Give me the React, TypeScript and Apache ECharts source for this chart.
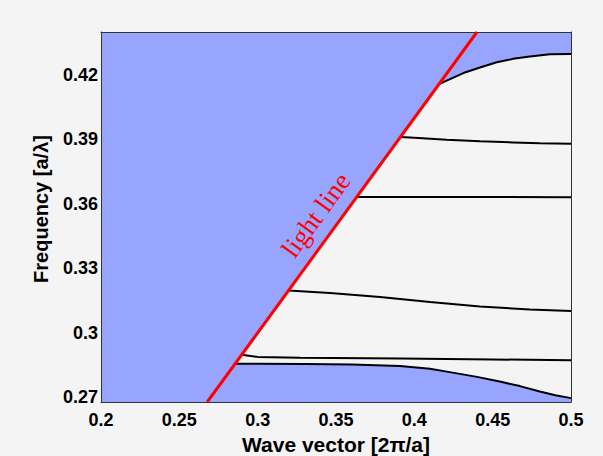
import React, { useEffect, useRef } from 'react';
import * as echarts from 'echarts';

// Axis ranges and ticks
const xMin = 0.2;
const xMax = 0.5;
const xInterval = 0.05;
const yMin = 0.2678;
const yMax = 0.44;
const yTickValues = [0.27, 0.3, 0.33, 0.36, 0.39, 0.42];
const rightTickValues = [0.3, 0.33, 0.36, 0.39, 0.42];

// Light line (omega = k)
const lightLine: number[][] = [
  [0.2678, 0.2678],
  [0.44, 0.44],
];

// Guided-mode bands [k, frequency], from top to bottom
const band1: number[][] = [
  [0.4157, 0.4157], [0.4228, 0.4181], [0.4313, 0.4209], [0.4419, 0.4235],
  [0.4526, 0.4259], [0.463, 0.4275], [0.4738, 0.4286], [0.4866, 0.4296], [0.5, 0.4298],
];
const band2: number[][] = [
  [0.3911, 0.3911], [0.4, 0.3908], [0.4206, 0.3899], [0.442, 0.3891],
  [0.4632, 0.3886], [0.48, 0.3882], [0.5, 0.388],
];
const band3: number[][] = [
  [0.3632, 0.3632], [0.4, 0.3632], [0.45, 0.3632], [0.5, 0.3631],
];
const band4: number[][] = [
  [0.3197, 0.3197], [0.3461, 0.3185], [0.3781, 0.3167], [0.41, 0.3143],
  [0.4419, 0.3123], [0.4738, 0.3108], [0.5, 0.3102],
];
const band5: number[][] = [
  [0.2898, 0.2898], [0.3, 0.2888], [0.327, 0.2884], [0.3908, 0.288],
  [0.45, 0.2876], [0.5, 0.2872],
];
const band6: number[][] = [
  [0.2856, 0.2856], [0.3, 0.2856], [0.33, 0.2855], [0.36, 0.2852], [0.3908, 0.2845],
  [0.41, 0.2833], [0.4226, 0.2817], [0.44, 0.2795], [0.4545, 0.2773], [0.4674, 0.2752],
  [0.4801, 0.2727], [0.49, 0.2709], [0.5, 0.2696],
];

const BLUE = '#97a5fe';
const GREY = '#f4f4f4';
const SANS = 'Liberation Sans, Arial, sans-serif';
const SERIF = 'Liberation Serif, Times New Roman, serif';

export default function App() {
  const ref = useRef<HTMLDivElement>(null);

  useEffect(() => {
    if (!ref.current) return;
    const chart = echarts.init(ref.current, null, { renderer: 'svg' });

    const bandSeries = [band1, band2, band3, band4, band5, band6].map((b) => ({
      type: 'line',
      data: b,
      symbol: 'none',
      silent: true,
      lineStyle: { color: '#000', width: 2 },
      z: 3,
    }));

    const axisLine = { show: true, lineStyle: { color: '#333', width: 1 } };

    chart.setOption({
      animation: false,
      backgroundColor: GREY,
      grid: {
        left: 101,
        right: 32,
        top: 32,
        bottom: 54,
        containLabel: false,
        outerBoundsMode: 'none',
        show: true,
        backgroundColor: BLUE,
        borderWidth: 0,
      },
      xAxis: [
        {
          type: 'value',
          min: xMin,
          max: xMax,
          interval: xInterval,
          position: 'bottom',
          axisLine,
          axisTick: { show: false },
          splitLine: { show: false },
          axisLabel: {
            color: '#000',
            fontSize: 18,
            fontWeight: 'bold',
            fontFamily: SANS,
            margin: 9,
          },
          name: 'Wave vector [2π/a]',
          nameLocation: 'middle',
          nameGap: 23,
          nameTextStyle: {
            color: '#000',
            fontSize: 21,
            fontWeight: 'bold',
            fontFamily: SANS,
          },
        },
        {
          type: 'value',
          min: xMin,
          max: xMax,
          interval: xInterval,
          position: 'top',
          axisLine,
          axisTick: { show: false },
          axisLabel: { show: false },
          splitLine: { show: false },
        },
      ],
      yAxis: [
        {
          type: 'value',
          min: yMin,
          max: yMax,
          position: 'left',
          axisLine,
          axisTick: { show: false },
          splitLine: { show: false },
          axisLabel: {
            customValues: yTickValues,
            color: '#000',
            fontSize: 18,
            fontWeight: 'bold',
            fontFamily: SANS,
            margin: 3,
            formatter: (v: number) => String(Math.round(v * 100) / 100),
          },
        },
        {
          type: 'value',
          min: yMin,
          max: yMax,
          position: 'right',
          axisLine,
          axisTick: {
            show: true,
            inside: true,
            length: 5,
            customValues: rightTickValues,
            lineStyle: { color: '#333', width: 1 },
          },
          axisLabel: { show: false },
          splitLine: { show: false },
        },
      ],
      series: [
        {
          type: 'custom',
          silent: true,
          data: [[0.4, 0.35]],
          z: 2,
          renderItem: (params: any, api: any) => {
            const pts: number[][] = [];
            band6.forEach((p) => pts.push(api.coord(p)));
            band1.slice().reverse().forEach((p) => pts.push(api.coord(p)));
            return {
              type: 'polygon',
              shape: { points: pts },
              style: { fill: GREY, stroke: null },
            };
          },
        },
        ...bandSeries,
        {
          type: 'line',
          data: lightLine,
          symbol: 'none',
          silent: true,
          lineStyle: { color: '#ff0000', width: 3 },
          z: 4,
        },
      ],
      graphic: [
        {
          type: 'text',
          x: 41,
          y: 209,
          rotation: Math.PI / 2,
          style: {
            text: 'Frequency [a/λ]',
            fill: '#000',
            fontSize: 20,
            fontWeight: 'bold',
            fontFamily: SANS,
            align: 'center',
            verticalAlign: 'middle',
          },
        },
        {
          type: 'text',
          x: 316,
          y: 215,
          rotation: (54 * Math.PI) / 180,
          style: {
            text: 'light line',
            fill: '#ff0000',
            fontSize: 27,
            fontFamily: SERIF,
            align: 'center',
            verticalAlign: 'middle',
          },
        },
        {
          type: 'text',
          x: 491,
          y: 339,
          style: {
            text: 'cut-off frequency',
            fill: '#ff0000',
            fontSize: 19,
            fontFamily: SERIF,
            align: 'center',
            verticalAlign: 'middle',
          },
        },
        {
          type: 'line',
          shape: { x1: 559.5, y1: 347, x2: 565, y2: 353.5 },
          style: { stroke: '#ff0000', lineWidth: 1.2, lineDash: [2, 1.5] },
        },
        {
          type: 'polygon',
          shape: { points: [[568, 357], [563.2, 354.5], [566.3, 351.9]] },
          style: { fill: '#ff0000' },
        },
      ],
    });

    return () => chart.dispose();
  }, []);

  return (
    <div
      style={{ position: 'fixed', left: 0, top: 0, width: 603, height: 456, background: GREY }}
    >
      <div ref={ref} style={{ width: 603, height: 456 }} />
    </div>
  );
}
